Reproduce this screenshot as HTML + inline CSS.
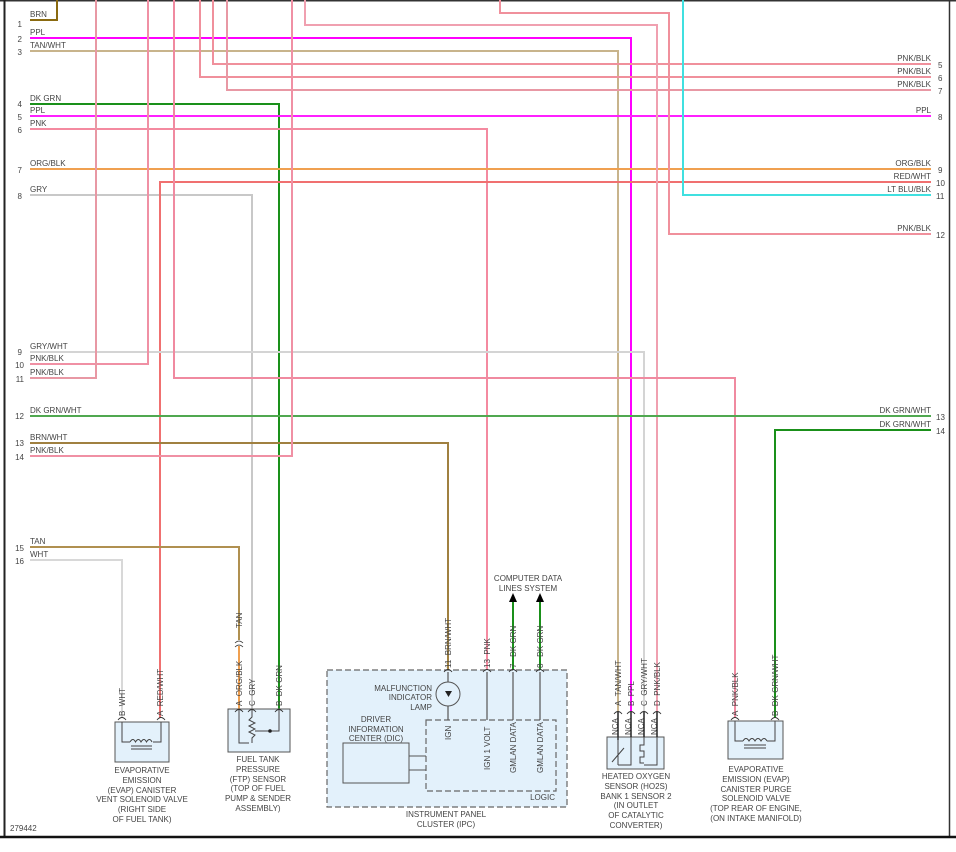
<!DOCTYPE html>
<html><head><meta charset="utf-8"><style>
html,body{margin:0;padding:0;background:#fff;}
svg{display:block;font-family:"Liberation Sans",sans-serif;}
text{fill:#444;font-size:8px;}
</style></head><body>
<svg width="956" height="852" viewBox="0 0 956 852" xmlns="http://www.w3.org/2000/svg">
<rect x="0" y="0" width="956" height="852" fill="#fff"/>
<line x1="0" y1="0.5" x2="956" y2="0.5" stroke="#333" stroke-width="2"/>
<line x1="4.5" y1="0" x2="4.5" y2="837" stroke="#222" stroke-width="2"/>
<line x1="949.5" y1="0" x2="949.5" y2="837" stroke="#333" stroke-width="1.5"/>
<line x1="0" y1="837" x2="956" y2="837" stroke="#111" stroke-width="2.5"/>

<g fill="none" stroke-width="2">
<polyline points="30,20 57,20 57,0" stroke="#8a6a10"/>
<polyline points="30,38 631,38 631,712" stroke="#ff00ff"/>
<polyline points="30,51 618,51 618,712" stroke="#c8b48c"/>
<polyline points="30,104 279,104 279,710" stroke="#1a901a"/>
<line x1="30" y1="116" x2="931" y2="116" stroke="#ff20ff"/>
<polyline points="30,129 487,129 487,672" stroke="#f48aa0"/>
<line x1="30" y1="169" x2="931" y2="169" stroke="#f0a050"/>
<polyline points="30,195 252,195 252,710" stroke="#c8c8c8"/>
<polyline points="931,182 160,182 160,718" stroke="#f07070"/>
<polyline points="213,0 213,64 931,64" stroke="#f0909c"/>
<polyline points="200,0 200,77 931,77" stroke="#f0909c"/>
<polyline points="227,0 227,90 931,90" stroke="#e898a4"/>
<polyline points="500,0 500,13 669,13 669,234 931,234" stroke="#f0909c"/>
<polyline points="305,0 305,25 657,25 657,712" stroke="#f0a0b0"/>
<polyline points="683,0 683,195 931,195" stroke="#40e0e0"/>
<polyline points="30,352 644,352 644,712" stroke="#d4d4d4"/>
<polyline points="30,364 148,364 148,0" stroke="#f090a4"/>
<polyline points="30,378 96,378 96,0" stroke="#e898a4"/>
<polyline points="174,0 174,378 735,378 735,718" stroke="#f08aa0"/>
<line x1="30" y1="416" x2="931" y2="416" stroke="#50a850"/>
<polyline points="931,430 775,430 775,718" stroke="#1a901a"/>
<polyline points="30,443 448,443 448,672" stroke="#a08040"/>
<polyline points="30,456 292,456 292,0" stroke="#f090a4"/>
<polyline points="30,547 239,547 239,640" stroke="#b09050"/>
<line x1="239" y1="646" x2="239" y2="710" stroke="#f0a050"/>
<polyline points="30,560 122,560 122,718" stroke="#d8d8d8"/>
<line x1="513" y1="602" x2="513" y2="672" stroke="#1a901a"/>
<line x1="540" y1="602" x2="540" y2="672" stroke="#1a901a"/>
</g>
<polygon points="513,593 509,602 517,602" fill="#000"/>
<polygon points="540,593 536,602 544,602" fill="#000"/>
<path d="M235,643 q4,-4 8,0 M235,647 q4,-4 8,0" fill="none" stroke="#333" stroke-width="0.8"/>

<g>
<text x="30" y="17">BRN</text><text x="30" y="35">PPL</text><text x="30" y="48">TAN/WHT</text>
<text x="30" y="101">DK GRN</text><text x="30" y="113">PPL</text><text x="30" y="126">PNK</text>
<text x="30" y="166">ORG/BLK</text><text x="30" y="192">GRY</text><text x="30" y="349">GRY/WHT</text>
<text x="30" y="361">PNK/BLK</text><text x="30" y="375">PNK/BLK</text><text x="30" y="413">DK GRN/WHT</text>
<text x="30" y="440">BRN/WHT</text><text x="30" y="453">PNK/BLK</text><text x="30" y="544">TAN</text><text x="30" y="557">WHT</text>
</g>
<g text-anchor="end">
<text x="22" y="27">1</text><text x="22" y="42">2</text><text x="22" y="55">3</text><text x="22" y="107">4</text>
<text x="22" y="120">5</text><text x="22" y="133">6</text><text x="22" y="173">7</text><text x="22" y="199">8</text>
<text x="22" y="355">9</text><text x="24" y="368">10</text><text x="24" y="382">11</text><text x="24" y="419">12</text>
<text x="24" y="446">13</text><text x="24" y="460">14</text><text x="24" y="551">15</text><text x="24" y="564">16</text>
<text x="931" y="61">PNK/BLK</text><text x="931" y="74">PNK/BLK</text><text x="931" y="87">PNK/BLK</text>
<text x="931" y="113">PPL</text><text x="931" y="166">ORG/BLK</text><text x="931" y="179">RED/WHT</text>
<text x="931" y="192">LT BLU/BLK</text><text x="931" y="231">PNK/BLK</text>
<text x="931" y="413">DK GRN/WHT</text><text x="931" y="427">DK GRN/WHT</text>
</g>
<g>
<text x="938" y="68">5</text><text x="938" y="81">6</text><text x="938" y="94">7</text><text x="938" y="120">8</text>
<text x="938" y="173">9</text><text x="936" y="186">10</text><text x="936" y="199">11</text><text x="936" y="238">12</text>
<text x="936" y="420">13</text><text x="936" y="434">14</text>
</g>

<g font-size="8">
<text transform="translate(125,716) rotate(-90)">B&#160;&#160;WHT</text>
<text transform="translate(163,716) rotate(-90)">A&#160;&#160;RED/WHT</text>
<text transform="translate(242,628) rotate(-90)">TAN</text>
<text transform="translate(242,706) rotate(-90)">A&#160;&#160;ORG/BLK</text>
<text transform="translate(255,706) rotate(-90)">C&#160;&#160;GRY</text>
<text transform="translate(282,706) rotate(-90)">B&#160;&#160;DK GRN</text>
<text transform="translate(451,668) rotate(-90)">11&#160;&#160;BRN/WHT</text>
<text transform="translate(490,668) rotate(-90)">13&#160;&#160;PNK</text>
<text transform="translate(516,668) rotate(-90)">7&#160;&#160;&#160;DK GRN</text>
<text transform="translate(543,668) rotate(-90)">8&#160;&#160;&#160;DK GRN</text>
<text transform="translate(621,706) rotate(-90)">A&#160;&#160;TAN/WHT</text>
<text transform="translate(634,706) rotate(-90)">B&#160;&#160;PPL</text>
<text transform="translate(647,706) rotate(-90)">C&#160;&#160;GRY/WHT</text>
<text transform="translate(660,706) rotate(-90)">D&#160;&#160;PNK/BLK</text>
<text transform="translate(738,716) rotate(-90)">A&#160;&#160;PNK/BLK</text>
<text transform="translate(778,716) rotate(-90)">B&#160;&#160;DK GRN/WHT</text>
<text transform="translate(618,735) rotate(-90)">NCA</text>
<text transform="translate(631,735) rotate(-90)">NCA</text>
<text transform="translate(644,735) rotate(-90)">NCA</text>
<text transform="translate(657,735) rotate(-90)">NCA</text>
</g>

<rect x="115" y="722" width="54" height="40" fill="#e3f1fb" stroke="#555" stroke-width="1"/>
<path d="M122,722 v20 h8 M161,722 v20 h-8" fill="none" stroke="#444"/>
<path d="M130,742 q3,-5 5.5,0 q3,-5 5.5,0 q3,-5 5.5,0 q3,-5 5.5,0" fill="none" stroke="#444"/>
<line x1="131" y1="746" x2="152" y2="746" stroke="#444"/><line x1="131" y1="749" x2="152" y2="749" stroke="#444"/>
<g text-anchor="middle"><text x="142" y="773">EVAPORATIVE</text><text x="142" y="783">EMISSION</text><text x="142" y="793">(EVAP) CANISTER</text><text x="142" y="802">VENT SOLENOID VALVE</text><text x="142" y="812">(RIGHT SIDE</text><text x="142" y="822">OF FUEL TANK)</text></g>

<rect x="228" y="709" width="62" height="43" fill="#e3f1fb" stroke="#555" stroke-width="1"/>
<path d="M239,709 v34 h10 M252,709 v8 l-3,3 6,3 -6,3 6,3 -6,3 6,3 -3,3 v5 M279,709 v22 h-24" fill="none" stroke="#444"/>
<circle cx="270" cy="731" r="1.8" fill="#222"/>
<g text-anchor="middle"><text x="258" y="762">FUEL TANK</text><text x="258" y="772">PRESSURE</text><text x="258" y="782">(FTP) SENSOR</text><text x="258" y="791">(TOP OF FUEL</text><text x="258" y="801">PUMP &amp; SENDER</text><text x="258" y="811">ASSEMBLY)</text></g>

<rect x="327" y="670" width="240" height="137" fill="#e3f1fb" stroke="#666" stroke-width="1.2" stroke-dasharray="6,3"/>
<rect x="426" y="720" width="130" height="71" fill="none" stroke="#666" stroke-width="1.2" stroke-dasharray="6,3"/>
<rect x="343" y="743" width="66" height="40" fill="#e3f1fb" stroke="#555"/>
<line x1="409" y1="756" x2="426" y2="756" stroke="#555"/><line x1="409" y1="770" x2="426" y2="770" stroke="#555"/>
<g stroke="#555" stroke-width="1.2"><line x1="448" y1="672" x2="448" y2="720"/><line x1="487" y1="672" x2="487" y2="720"/><line x1="513" y1="672" x2="513" y2="720"/><line x1="540" y1="672" x2="540" y2="720"/></g>
<circle cx="448" cy="694" r="12" fill="#e3f1fb" stroke="#555"/>
<polygon points="445,691 452,691 448.5,697" fill="#222"/>
<g text-anchor="end"><text x="432" y="691">MALFUNCTION</text><text x="432" y="700">INDICATOR</text><text x="432" y="710">LAMP</text><text x="555" y="800">LOGIC</text></g>
<g text-anchor="middle"><text x="376" y="722">DRIVER</text><text x="376" y="732">INFORMATION</text><text x="376" y="741">CENTER (DIC)</text>
<text x="446" y="817">INSTRUMENT PANEL</text><text x="446" y="827">CLUSTER (IPC)</text>
<text x="528" y="581">COMPUTER DATA</text><text x="528" y="591">LINES SYSTEM</text></g>
<g><text transform="translate(451,740) rotate(-90)">IGN</text>
<text transform="translate(490,770) rotate(-90)">IGN 1 VOLT</text>
<text transform="translate(516,773) rotate(-90)">GMLAN DATA</text>
<text transform="translate(543,773) rotate(-90)">GMLAN DATA</text></g>

<rect x="607" y="737" width="57" height="32" fill="#e3f1fb" stroke="#555"/>
<g stroke="#222" stroke-width="1.5"><line x1="618" y1="712" x2="618" y2="740"/><line x1="631" y1="712" x2="631" y2="737"/><line x1="644" y1="712" x2="644" y2="737"/><line x1="657" y1="712" x2="657" y2="737"/></g>
<path d="M618,737 v28 M631,737 v28 h-13 M612,762 l12,-14 M644,737 v8 h-4 v6 h4 v6 h-4 v6 h4 M657,737 v28 h-13" fill="none" stroke="#444"/>
<g text-anchor="middle"><text x="636" y="779">HEATED OXYGEN</text><text x="636" y="789">SENSOR (HO2S)</text><text x="636" y="799">BANK 1 SENSOR 2</text><text x="636" y="808">(IN OUTLET</text><text x="636" y="818">OF CATALYTIC</text><text x="636" y="828">CONVERTER)</text></g>

<rect x="728" y="721" width="55" height="38" fill="#e3f1fb" stroke="#555"/>
<path d="M735,721 v20 h8 M775,721 v20 h-8" fill="none" stroke="#444"/>
<path d="M743,741 q3,-5 6,0 q3,-5 6,0 q3,-5 6,0 q3,-5 6,0" fill="none" stroke="#444"/>
<line x1="744" y1="745" x2="766" y2="745" stroke="#444"/><line x1="744" y1="748" x2="766" y2="748" stroke="#444"/>
<g text-anchor="middle"><text x="756" y="772">EVAPORATIVE</text><text x="756" y="782">EMISSION (EVAP)</text><text x="756" y="792">CANISTER PURGE</text><text x="756" y="801">SOLENOID VALVE</text><text x="756" y="811">(TOP REAR OF ENGINE,</text><text x="756" y="821">(ON INTAKE MANIFOLD)</text></g>

<g fill="none" stroke="#333" stroke-width="0.9">
<path d="M118,720 q4,-5 8,0 M157,720 q4,-5 8,0 M235,712 q4,-5 8,0 M248,712 q4,-5 8,0 M275,712 q4,-5 8,0 M444,672 q4,-5 8,0 M483,672 q4,-5 8,0 M509,672 q4,-5 8,0 M536,672 q4,-5 8,0 M614,714 q4,-5 8,0 M627,714 q4,-5 8,0 M640,714 q4,-5 8,0 M653,714 q4,-5 8,0 M731,720 q4,-5 8,0 M771,720 q4,-5 8,0"/>
</g>
<text x="10" y="831">279442</text>
</svg>
</body></html>
